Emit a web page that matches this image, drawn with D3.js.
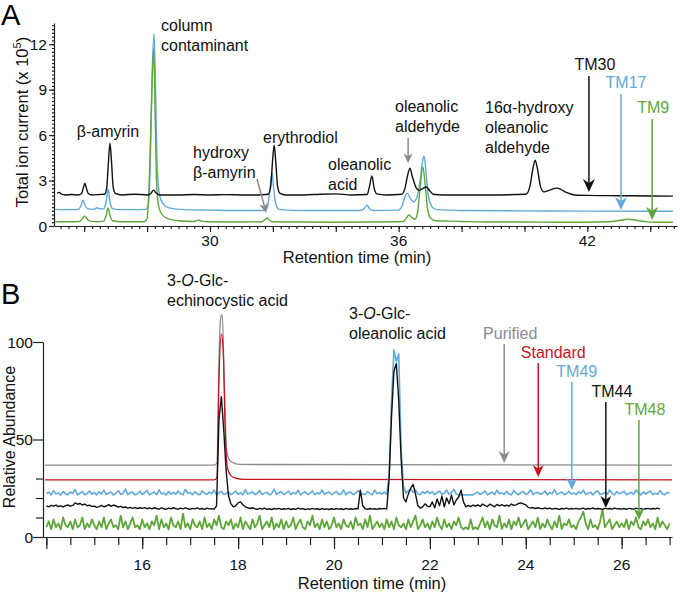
<!DOCTYPE html>
<html>
<head>
<meta charset="utf-8">
<title>Chromatograms</title>
<script src="https://d3js.org/d3.v7.min.js"></script>
<style>
  body { margin: 0; background: #fff; }
  svg { display: block; font-family: "Liberation Sans", Arial, sans-serif; }
  .axis path, .axis line { stroke: #222; stroke-width: 1.2; }
  .lbl { font-size: 16px; fill: #111; }
  .tick-lbl { font-size: 15.5px; fill: #111; }
</style>
</head>
<body>
<script>
// ---------------- data: panel A (GC-MS, total ion current x 10^5) ----------------
var blackA = [[25.14,2.15],[25.2,2.22],[25.28,2.1],[25.4,2.05],[25.6,2.08],[25.8,2.05],[25.92,2.15],[25.97,2.5],[26.02,2.83],[26.07,2.5],[26.13,2.15],[26.25,2.05],[26.5,2.08],[26.65,2.1],[26.72,2.6],[26.77,4.2],[26.82,5.47],[26.87,4.2],[26.92,2.6],[26.99,2.15],[27.2,2.05],[27.6,2.1],[28.0,2.05],[28.12,2.15],[28.2,2.37],[28.28,2.2],[28.38,2.05],[29,2.05],[29.5,2.08],[30,2.05],[30.5,2.07],[31,2.05],[31.5,2.05],[31.85,2.1],[31.93,2.6],[31.99,4.3],[32.04,5.34],[32.09,4.3],[32.15,2.6],[32.23,2.15],[32.4,2.05],[33,2.05],[33.5,2.1],[34,2.12],[34.5,2.05],[35.0,2.08],[35.06,2.5],[35.15,3.3],[35.22,2.5],[35.3,2.12],[35.6,2.05],[36.1,2.1],[36.2,2.5],[36.29,3.4],[36.36,3.82],[36.43,3.3],[36.55,2.55],[36.65,2.35],[36.75,2.45],[36.88,2.57],[36.98,2.35],[37.1,2.1],[37.4,2.05],[38,2.05],[39,2.05],[40.05,2.1],[40.17,2.6],[40.27,3.8],[40.34,4.35],[40.41,3.8],[40.51,2.6],[40.62,2.25],[40.78,2.35],[40.95,2.48],[41.04,2.5],[41.15,2.42],[41.35,2.2],[41.6,2.05],[42,2.02],[43,2.0],[44,1.98],[44.72,1.97]];
var blueA = [[25.08,1.1],[25.5,1.08],[25.82,1.1],[25.9,1.35],[25.96,1.7],[26.02,1.4],[26.1,1.15],[26.3,1.1],[26.41,1.2],[26.5,1.12],[26.62,1.15],[26.7,1.6],[26.76,2.44],[26.82,1.6],[26.9,1.15],[27.1,1.08],[27.6,1.08],[27.95,1.1],[28.03,1.3],[28.1,4],[28.16,10],[28.22,12.7],[28.27,9],[28.32,4],[28.4,2],[28.5,1.5],[28.7,1.2],[29.2,1.08],[30,1.05],[31,1.02],[31.7,1.02],[31.82,1.2],[31.9,2.3],[31.97,3.56],[32.03,2.4],[32.1,1.4],[32.2,1.1],[33,1.02],[34,1.02],[34.75,1.02],[34.88,1.1],[34.99,1.38],[35.08,1.12],[35.2,1.02],[36.0,1.05],[36.12,1.4],[36.2,1.95],[36.27,2.17],[36.36,1.85],[36.47,1.6],[36.58,1.9],[36.68,3.0],[36.76,4.3],[36.81,4.6],[36.87,3.5],[36.95,1.9],[37.05,1.3],[37.2,1.08],[38,1.02],[40,1.0],[42,0.98],[44,0.97],[44.72,0.97]];
var greenA = [[25.08,0.3],[25.5,0.28],[25.85,0.3],[25.95,0.5],[26.01,0.66],[26.08,0.5],[26.18,0.32],[26.4,0.28],[26.62,0.32],[26.7,0.7],[26.76,1.19],[26.82,0.7],[26.9,0.35],[27.2,0.28],[27.9,0.28],[28.0,0.5],[28.07,3],[28.14,8],[28.21,11.7],[28.26,7],[28.31,2.5],[28.38,1.2],[28.5,0.7],[28.7,0.45],[29,0.35],[29.5,0.3],[29.58,0.36],[29.64,0.4],[29.72,0.32],[30,0.28],[31,0.26],[31.65,0.28],[31.75,0.42],[31.81,0.53],[31.88,0.4],[32,0.28],[33,0.26],[34,0.25],[35,0.26],[36.15,0.3],[36.25,0.55],[36.33,0.73],[36.42,0.55],[36.52,0.45],[36.6,0.9],[36.68,2.5],[36.77,3.89],[36.84,2.8],[36.92,1.1],[37.02,0.5],[37.2,0.35],[37.6,0.32],[38,0.3],[39,0.26],[40,0.26],[41,0.25],[42,0.25],[42.7,0.28],[43,0.36],[43.3,0.45],[43.6,0.36],[43.9,0.27],[44.2,0.25],[44.72,0.25]];

var armLabelsA = ["TM30", "TM17", "TM9"];
var armTimesA = [42.05, 43.07, 44.06];
var armLevelsA = [2.24, 1.05, 0.4];

var xTicksA = [30, 36, 42];
var yTicksA = [0, 3, 6, 9, 12];

// ---------------- data: panel B (LC-MS, relative abundance) ----------------
var grayB = [[13.97,36.9],[17.5,36.9],[17.56,38],[17.6,90],[17.64,113],[17.67,114],[17.71,80],[17.76,45],[17.82,39.5],[17.9,38],[18.05,37.2],[27.05,36.9]];
var redB = [[13.97,29.3],[17.5,29.3],[17.56,30.5],[17.6,80],[17.65,104],[17.69,95],[17.73,55],[17.78,35],[17.85,31.5],[17.95,30.2],[18.1,29.6],[27.05,29.3]];

// sampled every 0.05 min from 14.00 min (one row = one minute)
var sampleStart = 14.0, sampleStep = 0.05;
var blueB = [
  22.2,23,21.6,23.8,22,22.6,21.5,23.4,22.1,21.7,23.1,22.3,24.3,21.6,22.5,23.2,21.7,22.2,23.6,21.9,
  22.8,21.6,23.3,22,24,21.8,22.6,23.1,21.5,22.4,23.7,21.9,22.3,24.6,21.7,22.8,23,21.6,22.2,23.5,
  21.8,22.7,23.9,21.6,22.4,23,21.7,24.2,22.1,22.6,21.5,23.3,22,22.9,21.8,23.6,22.2,21.6,24.4,22.3,
  22.9,21.7,23.2,22.1,21.6,23.8,22.4,21.9,23,22.2,24.1,21.6,22.7,23.4,21.8,22.3,23.1,21.7,22.5,23.6,
  21.9,22.8,21.6,24.3,22,22.6,23.2,21.7,22.4,23.9,21.8,22.5,23,21.6,22.2,24.5,21.9,22.7,23.3,21.8,
  22.4,23.6,21.7,22.9,22.1,24,21.6,22.5,23.2,21.8,22.3,23.7,21.6,22.8,22,24.2,21.9,22.6,23.1,21.7,
  22.5,23.4,21.8,22.2,24.1,21.6,22.9,23,21.7,22.4,23.8,22.6,22,21.7,23.3,22.4,21.6,24,22.2,22.8,
  22,23.1,21.8,32,70,96,90,94,45,26,22.5,23.8,24.5,23,24,22.1,21.8,23.2,22.4,23.5,
  22.3,23.3,21.7,22.8,23.6,21.9,22.4,24.1,21.8,22.9,24.4,22,21.6,21.5,21.6,21.5,21.6,21.5,21.6,22.4,
  23,21.8,22.5,23.7,21.6,22.3,23.1,21.7,24,22.2,22.6,21.8,23.4,22,21.6,23.9,22.4,21.7,22.8,23.3,
  21.8,22.4,24.2,21.7,22.6,23,21.9,22.3,23.6,21.6,22.8,22.1,24.3,21.8,22.5,23.1,21.7,22.2,23.5,22,
  22.6,21.7,23.2,22.3,24,21.8,22.5,23,21.6,22.9,23.7,21.8,22.2,22.7,21.9,24.1,22.4,21.6,23.3,22.1,
  22.7,23.5,21.7,22.3,22.9,21.8,24.2,22.5,21.6,23.1,22,22.8,23.6,21.7,22.4,21.9,23.8,22.2,21.6,22.9,
  22.3
];
var blackB = [
  16,15.5,16.2,15.8,16.3,15.6,16,15.4,16.1,16.5,15.8,16.2,17.5,16.8,17.2,16.4,16.9,16,16.3,15.7,
  15.8,15.2,15.6,16.2,15.5,15.9,16.6,15.7,16.4,15.9,15.3,15.7,15.1,15.4,14.8,15.2,14.7,15.1,14.6,15,
  14.7,15.1,14.5,14.9,14.4,15,14.6,14.3,14.9,14.5,14.2,14.8,14.4,15,14.5,14.3,14.8,14.4,14.9,14.5,
  14.2,14.7,14.4,14.9,14.3,14.6,14.2,14.8,14.4,14.5,14.3,16,60,72,55,34,21,17,15.5,16,
  17.5,18,16.5,15.5,15,14.6,15,14.5,14.2,14.7,14.3,14.8,14.2,14.5,14.1,14.6,14.3,14.7,14.2,14.5,
  14.3,14.7,14.1,14.5,14.2,14.8,14.3,14.6,14.1,14.4,14.2,14.7,14.3,14.5,14.1,14.6,14.2,14.4,14.1,14.5,
  14.2,14.6,14.3,14.5,14.1,14.7,14.3,14.5,14.2,14.6,14.4,24,16,14.5,14.2,14.6,14.3,14.5,14.2,14.6,
  14.4,14.7,14.3,30,62,85,89,70,40,20,18,22,25,27,22,16,14.8,15.5,17,15.8,
  15.5,18,15,19.5,16,21,15.5,20,17,21.5,16.5,19,20.5,24,18,15.5,16.2,15.6,16.4,15.8,
  16.5,15.7,16.9,16.1,15.6,16.8,16.2,15.5,16.7,16,16.6,15.9,16.3,15.8,16.9,16.2,16.5,17.2,17.5,17,
  16.5,15.2,14.8,15.1,14.6,15,14.7,14.4,14.9,14.5,14.8,14.3,14.7,14.5,14.2,14.6,14.4,14.8,14.3,14.6,
  14.4,14.7,14.3,14.5,14.8,14.2,14.6,14.4,14.9,14.3,14.6,14.5,14.2,14.7,14.4,14.6,14.3,14.8,14.4,14.5,
  14.3,14.6,14.2,14.7,14.5,14.3,14.8,14.4,14.6,14.2,14.5,14.7,14.3,14.6,14.4,14.8,14.3
];
var greenB = [
  5,8,4,9,5,7,4,10,6,5,8,4,9,5,6,10,4,7,5,9,
  6,4,8,5,10,4,7,9,5,6,4,11,5,8,4,7,10,5,6,4,
  9,5,7,4,8,6,11,4,9,5,7,4,10,6,5,8,4,12,5,7,
  4,9,6,5,8,4,10,5,7,4,9,6,11,5,4,8,6,9,4,7,
  5,10,4,8,6,4,9,5,7,11,4,6,8,5,10,4,7,5,9,4,
  8,5,6,10,4,7,9,5,4,8,6,11,5,7,4,9,5,8,4,6,
  10,5,7,4,9,6,5,8,4,10,6,7,4,9,5,11,4,6,8,5,
  7,4,9,5,8,4,10,6,5,7,4,9,5,8,11,4,6,9,5,7,
  4,8,5,10,6,4,9,5,7,4,8,6,10,5,4,5,4,9,4,5,
  4,7,10,5,8,4,9,6,5,11,4,7,5,9,4,8,6,10,5,7,
  9,4,6,8,5,10,4,7,5,9,6,4,8,5,11,4,7,6,9,5,
  6,4,8,10,13,7,4,9,5,6,4,8,14,5,7,9,4,6,8,5,
  7,5,9,4,8,6,10,5,4,8,6,9,5,7,4,10,5,8,6,4,
  7
];

var armLabelsB = ["Purified", "Standard", "TM49", "TM44", "TM48"];
var armTimesB = [23.55, 24.26, 24.96, 25.67, 26.36];
var armLevelsB = [37.9, 30.8, 24.1, 14.9, 8.7];

var xTicksB = [16, 18, 20, 22, 24, 26];
var yTicksB = [0, 50, 100];
var yMinorB = [10, 20, 30];

// ---------------- setup ----------------
var width = 680, height = 594;
var svg = d3.select("body").append("svg")
    .attr("width", width)
    .attr("height", height);

var GRAY = "#8a8a93", BLUE = "#62aad9", GREEN = "#5fa63a", RED = "#c8141e", BLACK = "#111";

function sampled(vals) {
  return vals.map(function(v, i) { return [sampleStart + i * sampleStep, v]; });
}

// arrow with a notched head, tip at (x, tipY)
function arrow(g, x, topY, tipY, color, hw, hl) {
  g.append("line")
    .attr("x1", x).attr("x2", x)
    .attr("y1", topY).attr("y2", tipY - hl * 0.6)
    .attr("stroke", color).attr("stroke-width", 1.5);
  g.append("path")
    .attr("d", "M" + x + "," + tipY + "L" + (x - hw) + "," + (tipY - hl) +
               "L" + x + "," + (tipY - hl * 0.7) + "L" + (x + hw) + "," + (tipY - hl) + "Z")
    .attr("fill", color);
}

//<------------------------------------ PANEL A ------------------------------------>
var xA = d3.scaleLinear().domain([25.04, 44.85]).range([54, 677]);
var yA = d3.scaleLinear().domain([0, 13.4]).range([226, 23]);

var gA = svg.append("g");

// x axis: minor ticks every 0.25 min, longer every 2 min
gA.append("g").attr("class", "axis")
    .attr("transform", "translate(0,226)")
    .call(d3.axisBottom(xA).tickValues(d3.range(25.25, 44.8, 0.25)).tickSize(3).tickFormat("").tickSizeOuter(0));
gA.append("g").attr("class", "axis")
    .attr("transform", "translate(0,226)")
    .call(d3.axisBottom(xA).tickValues(d3.range(26, 45, 2)).tickSize(6).tickFormat("").tickSizeOuter(0))
    .select(".domain").remove();

gA.selectAll(".xlblA").data(xTicksA).enter().append("text")
    .attr("class", "tick-lbl")
    .attr("x", function(d) { return xA(d); })
    .attr("y", 246)
    .attr("text-anchor", "middle")
    .text(function(d) { return d; });

// y axis
gA.append("g").attr("class", "axis")
    .attr("transform", "translate(54,0)")
    .call(d3.axisLeft(yA).tickValues(d3.range(0.25, 13.4, 0.25)).tickSize(2).tickFormat("").tickSizeOuter(0));
gA.append("g").attr("class", "axis")
    .attr("transform", "translate(54,0)")
    .call(d3.axisLeft(yA).tickValues(yTicksA).tickSize(5).tickFormat("").tickSizeOuter(0))
    .select(".domain").remove();

gA.selectAll(".ylblA").data(yTicksA).enter().append("text")
    .attr("class", "tick-lbl")
    .attr("x", 47)
    .attr("y", function(d) { return yA(d); })
    .attr("dy", "0.36em")
    .attr("text-anchor", "end")
    .text(function(d) { return d; });

var lineA = d3.line()
    .x(function(d) { return xA(d[0]); })
    .y(function(d) { return yA(d[1]); })
    .curve(d3.curveMonotoneX);

[[blueA, BLUE], [greenA, GREEN], [blackA, BLACK]].forEach(function(s) {
  gA.append("path")
    .datum(s[0])
    .attr("d", lineA)
    .attr("fill", "none")
    .attr("stroke", s[1])
    .attr("stroke-width", 1.4)
    .attr("stroke-linejoin", "round");
});

// axis titles
gA.append("text")
    .attr("class", "lbl")
    .attr("x", 357).attr("y", 263)
    .attr("text-anchor", "middle")
    .style("font-size", "16.5px")
    .text("Retention time (min)");

var ytA = gA.append("text")
    .attr("class", "lbl")
    .attr("transform", "translate(28,122) rotate(-90)")
    .attr("text-anchor", "middle")
    .style("font-size", "16.5px");
ytA.append("tspan").text("Total ion current (x 10");
ytA.append("tspan").attr("dy", -7).style("font-size", "11px").text("5");
ytA.append("tspan").attr("dy", 7).text(")");

svg.append("text")
    .attr("x", 1).attr("y", 25)
    .style("font-size", "29px")
    .text("A");

// peak annotations
var notesA = [
  {lines: ["column", "contaminant"], x: 161, y: 31, anchor: "start"},
  {lines: ["\u03b2-amyrin"], x: 108, y: 137, anchor: "middle"},
  {lines: ["hydroxy", "\u03b2-amyrin"], x: 193, y: 158, anchor: "start"},
  {lines: ["erythrodiol"], x: 263, y: 143, anchor: "start"},
  {lines: ["oleanolic", "acid"], x: 328, y: 170, anchor: "start"},
  {lines: ["oleanolic", "aldehyde"], x: 395, y: 112, anchor: "start"},
  {lines: ["16\u03b1-hydroxy", "oleanolic", "aldehyde"], x: 485, y: 113, anchor: "start"}
];
notesA.forEach(function(n) {
  var t = gA.append("text").attr("class", "lbl").attr("text-anchor", n.anchor);
  n.lines.forEach(function(s, i) {
    t.append("tspan").attr("x", n.x).attr("y", n.y + i * 20).text(s);
  });
});

// gray pointer arrows
(function() {
  var x1 = 257, y1 = 179, x2 = xA(31.79), y2 = yA(0.85);
  var ang = Math.atan2(y2 - y1, x2 - x1);
  gA.append("line").attr("x1", x1).attr("y1", y1)
    .attr("x2", x2 - 6 * Math.cos(ang)).attr("y2", y2 - 6 * Math.sin(ang))
    .attr("stroke", GRAY).attr("stroke-width", 1.5);
  var h = gA.append("g").attr("transform", "translate(" + x2 + "," + y2 + ") rotate(" + (ang * 180 / Math.PI - 90) + ")");
  h.append("path").attr("d", "M0,0L-4.5,-10L0,-7L4.5,-10Z").attr("fill", GRAY);
})();
arrow(gA, xA(36.3), 138, yA(4.15), GRAY, 4.5, 10);

// sample arrows
var colorsA = [BLACK, BLUE, GREEN];
var labelYA = [70, 88, 113];
var labelDxA = [6, 5, 1];
armLabelsA.forEach(function(name, i) {
  var x = xA(armTimesA[i]);
  gA.append("text")
    .attr("class", "lbl")
    .attr("x", x + labelDxA[i]).attr("y", labelYA[i])
    .attr("text-anchor", "middle")
    .style("fill", colorsA[i])
    .text(name);
  arrow(gA, x, labelYA[i] + 6, yA(armLevelsA[i]), colorsA[i], 6, 13);
});

//<------------------------------------ PANEL B ------------------------------------>
var xB = d3.scaleLinear().domain([13.93, 27.05]).range([43, 672]);
var yB = d3.scaleLinear().domain([0, 100]).range([537, 342]);

var gB = svg.append("g");

gB.append("g").attr("class", "axis")
    .attr("transform", "translate(0,537)")
    .call(d3.axisBottom(xB).tickValues(d3.range(14, 27.01, 0.5)).tickSize(8).tickFormat("").tickSizeOuter(0));
gB.append("g").attr("class", "axis")
    .attr("transform", "translate(0,537)")
    .call(d3.axisBottom(xB).tickValues(d3.range(14, 27, 2)).tickSize(12).tickFormat("").tickSizeOuter(0))
    .select(".domain").remove();

gB.selectAll(".xlblB").data(xTicksB).enter().append("text")
    .attr("class", "tick-lbl")
    .attr("x", function(d) { return xB(d); })
    .attr("y", 570)
    .attr("text-anchor", "middle")
    .text(function(d) { return d; });

gB.append("g").attr("class", "axis")
    .attr("transform", "translate(43,0)")
    .call(d3.axisLeft(yB).tickValues(yTicksB).tickSize(10).tickFormat("").tickSizeOuter(0));
gB.append("g").attr("class", "axis")
    .attr("transform", "translate(43,0)")
    .call(d3.axisLeft(yB).tickValues(yMinorB).tickSize(7).tickFormat("").tickSizeOuter(0))
    .select(".domain").remove();

gB.selectAll(".ylblB").data(yTicksB).enter().append("text")
    .attr("class", "tick-lbl")
    .attr("x", 33)
    .attr("y", function(d) { return yB(d); })
    .attr("dy", "0.36em")
    .attr("text-anchor", "end")
    .text(function(d) { return d; });

var lineB = d3.line()
    .x(function(d) { return xB(d[0]); })
    .y(function(d) { return yB(d[1]); });

[[grayB, GRAY, d3.curveMonotoneX, 1.3],
 [redB, RED, d3.curveMonotoneX, 1.3],
 [sampled(blueB), BLUE, d3.curveLinear, 1.6],
 [sampled(greenB), GREEN, d3.curveLinear, 1.8],
 [sampled(blackB), BLACK, d3.curveLinear, 1.4]].forEach(function(s) {
  gB.append("path")
    .datum(s[0])
    .attr("d", lineB.curve(s[2]))
    .attr("fill", "none")
    .attr("stroke", s[1])
    .attr("stroke-width", s[3])
    .attr("stroke-linejoin", "round");
});

gB.append("text")
    .attr("class", "lbl")
    .attr("x", 372).attr("y", 589)
    .attr("text-anchor", "middle")
    .style("font-size", "16.5px")
    .text("Retention time (min)");

gB.append("text")
    .attr("class", "lbl")
    .attr("transform", "translate(15,437) rotate(-90)")
    .attr("text-anchor", "middle")
    .text("Relative Abundance");

svg.append("text")
    .attr("x", 1).attr("y", 304)
    .style("font-size", "29px")
    .text("B");

function glcLabel(x, y, second) {
  var t = gB.append("text").attr("class", "lbl");
  var l1 = t.append("tspan").attr("x", x).attr("y", y);
  l1.append("tspan").text("3-");
  l1.append("tspan").style("font-style", "italic").text("O");
  l1.append("tspan").text("-Glc-");
  t.append("tspan").attr("x", x).attr("y", y + 20).text(second);
}
glcLabel(167, 286, "echinocystic acid");
glcLabel(349, 319, "oleanolic acid");

var colorsB = [GRAY, RED, BLUE, BLACK, GREEN];
var labelYB = [339, 358, 377, 397, 415];
var labelDxB = [6, 15, 5, 6, 6];
armLabelsB.forEach(function(name, i) {
  var x = xB(armTimesB[i]);
  gB.append("text")
    .attr("class", "lbl")
    .attr("x", x + labelDxB[i]).attr("y", labelYB[i])
    .attr("text-anchor", "middle")
    .style("fill", colorsB[i])
    .text(name);
  arrow(gB, x, labelYB[i] + 5, yB(armLevelsB[i]), colorsB[i], 5.5, 12);
});
</script>
</body>
</html>
